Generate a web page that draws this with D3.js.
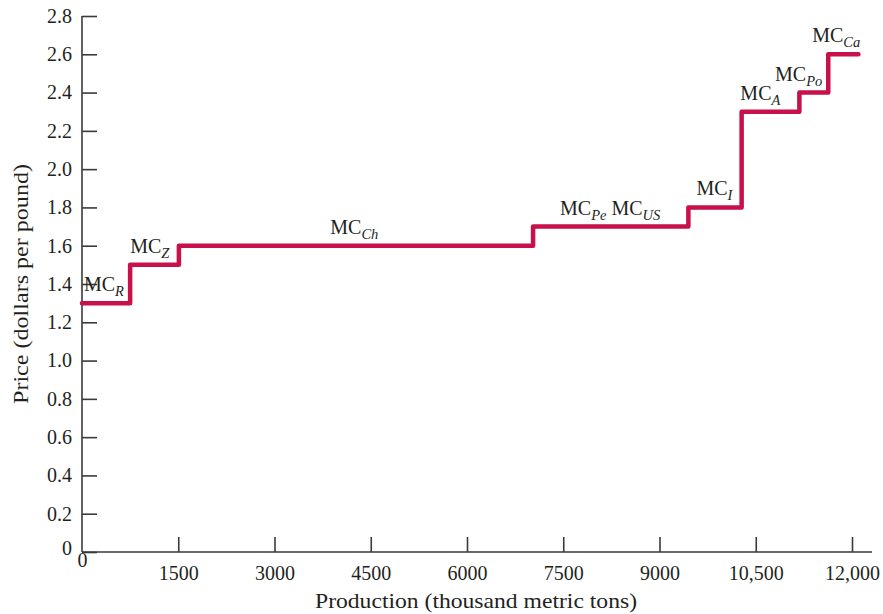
<!DOCTYPE html>
<html><head><meta charset="utf-8">
<script src="https://cdn.jsdelivr.net/npm/d3@7"></script>
<style>body{margin:0;background:#fff}svg{display:block}text{font-family:"Liberation Serif","DejaVu Serif",serif;fill:#231f20}</style>
</head><body><svg id="c" width="883" height="614"></svg>
<script>
// Step supply curve: each producer's segment [start, end] at a marginal cost
const segStart = [0, 750, 1510, 7030, 9450, 10280, 11180, 11630];
const segEnd   = [750, 1510, 7030, 9450, 10280, 11180, 11630, 12100];
const segCost  = [1.3, 1.5, 1.6, 1.7, 1.8, 2.3, 2.4, 2.6];
// Labels: subscripts and label x (data units) for each segment
const labelSubs = [["R"], ["Z"], ["Ch"], ["Pe", "US"], ["I"], ["A"], ["Po"], ["Ca"]];
const labelX = [30, 750, 3870, 7450, 9575, 10260, 10800, 11380];
const xTicks = [0, 1500, 3000, 4500, 6000, 7500, 9000, 10500, 12000];
const xTickLabels = ["0", "1500", "3000", "4500", "6000", "7500", "9000", "10,500", "12,000"];
const yTicks = [0, 0.2, 0.4, 0.6, 0.8, 1.0, 1.2, 1.4, 1.6, 1.8, 2.0, 2.2, 2.4, 2.6, 2.8];
const yTickLabels = ["0", "0.2", "0.4", "0.6", "0.8", "1.0", "1.2", "1.4", "1.6", "1.8", "2.0", "2.2", "2.4", "2.6", "2.8"];

const svg = d3.select("#c");
const x = d3.scaleLinear().domain([0, 12000]).range([82, 852]);
const y = d3.scaleLinear().domain([0, 2.8]).range([552, 16]);
const axisColor = "#3a3a3a";

// Axes
const gx = svg.append("g").attr("transform", "translate(0,552)")
  .call(d3.axisBottom(x).tickValues(xTicks).tickSize(-15).tickSizeOuter(0)
    .tickFormat((d, i) => xTickLabels[i]).tickPadding(9));
gx.select(".domain").attr("d", `M82,0H872`);
const gy = svg.append("g").attr("transform", "translate(82,0)")
  .call(d3.axisLeft(y).tickValues(yTicks).tickSize(-15).tickSizeOuter(0)
    .tickFormat((d, i) => yTickLabels[i]).tickPadding(10));
gy.select(".domain").attr("d", `M0,16V552`);
[gx, gy].forEach(g => {
  g.select(".domain").attr("stroke", axisColor).attr("stroke-width", 1.6);
  g.selectAll(".tick line").attr("stroke", axisColor).attr("stroke-width", 1.6);
  g.selectAll(".tick text").attr("font-size", 20).attr("fill", "#231f20")
    .attr("font-family", '"Liberation Serif",serif');
});
gx.selectAll(".tick text").attr("dy", "0.95em");
gx.selectAll(".tick").filter(d => d === 0).select("text").attr("dy", "0.3em").attr("text-anchor", "middle");
gy.selectAll(".tick").filter(d => d === 0).select("text").attr("dy", "0.1em");
gx.selectAll(".tick").filter(d => d === 0).select("line").remove();

// Step line
const pts = [];
segCost.forEach((c, i) => { pts.push([segStart[i], c]); pts.push([segEnd[i], c]); });
svg.append("path").datum(pts)
  .attr("d", d3.line().x(d => x(d[0])).y(d => y(d[1])))
  .attr("fill", "none").attr("stroke", "#c8104a").attr("stroke-width", 4.5)
  .attr("stroke-linejoin", "round").attr("stroke-linecap", "round");

// Labels
labelSubs.forEach((subs, i) => {
  const t = svg.append("text").attr("x", x(labelX[i])).attr("y", y(segCost[i]) - 12)
    .attr("font-size", 20);
  subs.forEach((s, j) => {
    t.append("tspan").text((j > 0 ? " " : "") + "MC").attr("dy", j > 0 ? -5 : 0);
    t.append("tspan").text(s).attr("font-style", "italic").attr("font-size", 14.5).attr("dy", 5);
  });
});

// Axis titles
svg.append("text").attr("x", 476).attr("y", 608).attr("text-anchor", "middle")
  .attr("font-size", 21).attr("textLength", 322).attr("lengthAdjust", "spacingAndGlyphs")
  .text("Production (thousand metric tons)");
svg.append("text").attr("transform", "translate(28,284) rotate(-90)").attr("text-anchor", "middle")
  .attr("font-size", 21).attr("textLength", 240).attr("lengthAdjust", "spacingAndGlyphs")
  .text("Price (dollars per pound)");
</script></body></html>
